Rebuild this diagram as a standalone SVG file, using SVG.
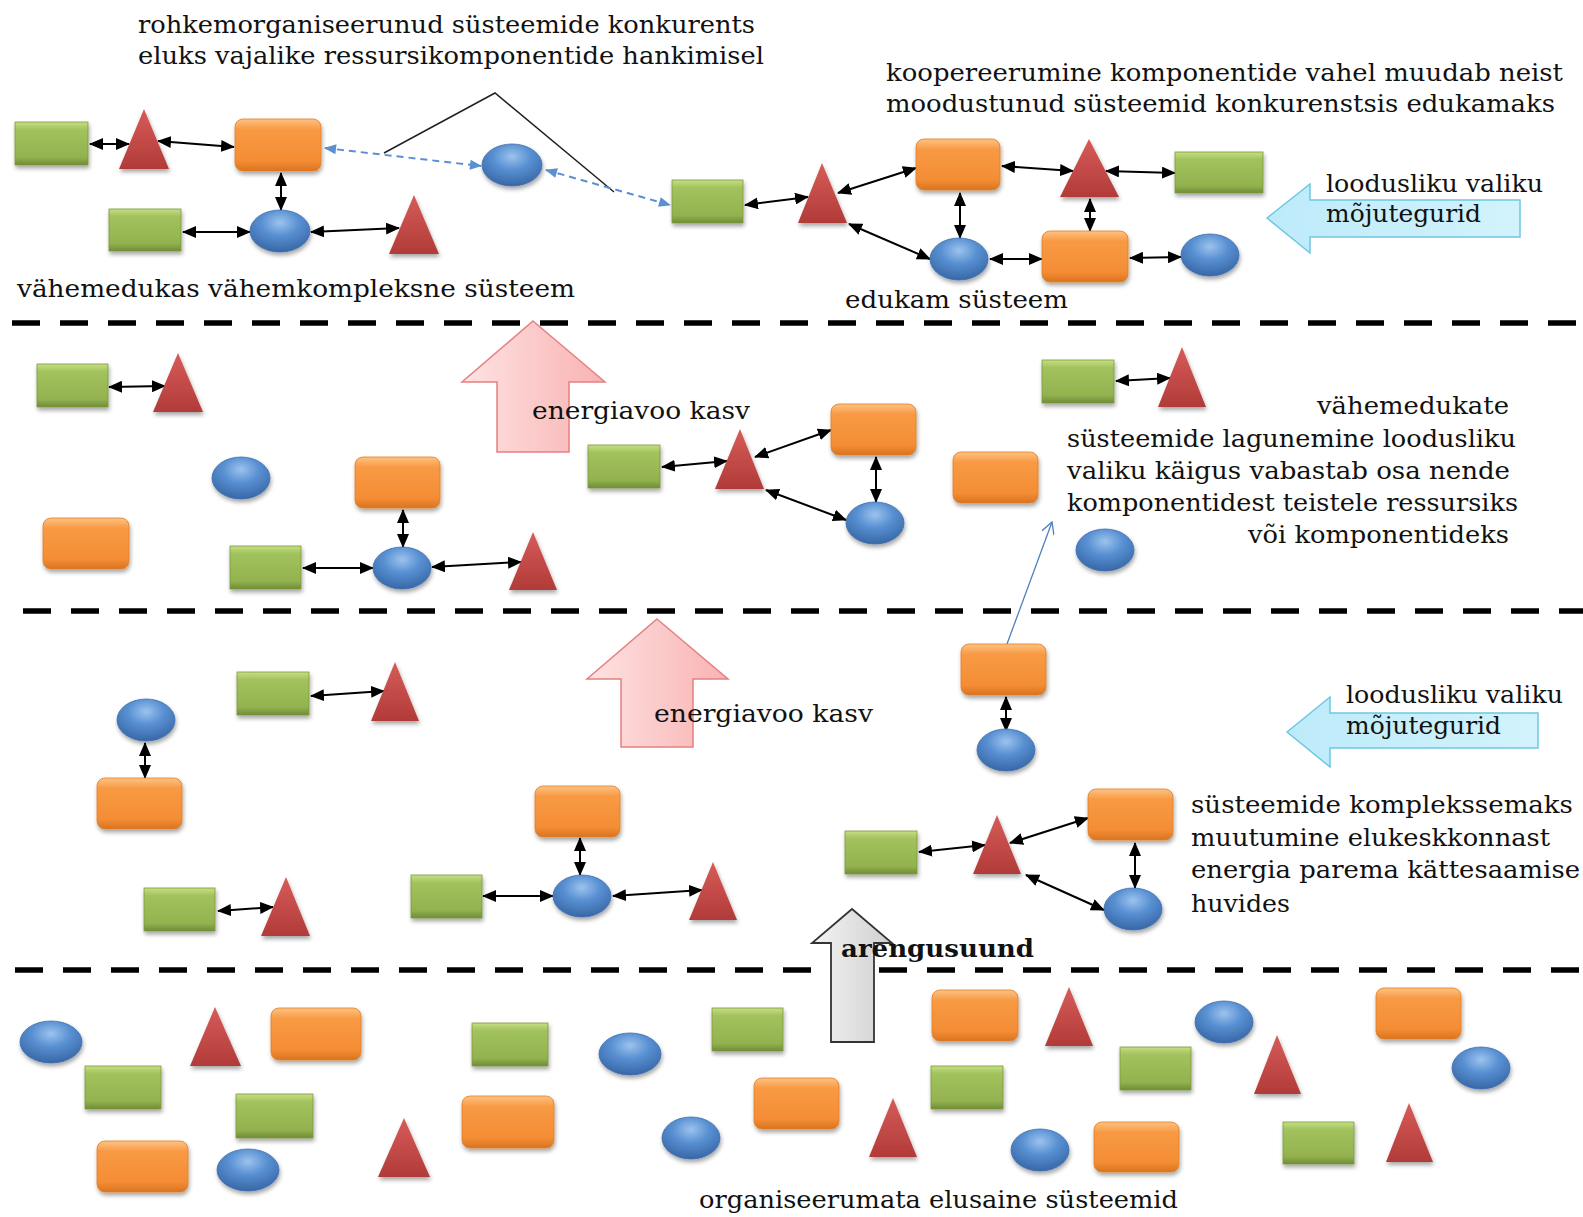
<svg xmlns="http://www.w3.org/2000/svg" width="1583" height="1217" viewBox="0 0 1583 1217">
<defs>
<linearGradient id="gG" x1="0" y1="0" x2="0" y2="1">
<stop offset="0" stop-color="#c6df82"/><stop offset="0.18" stop-color="#a2c25e"/><stop offset="0.82" stop-color="#93b24f"/><stop offset="1" stop-color="#6f8c36"/>
</linearGradient>
<linearGradient id="gO" x1="0" y1="0" x2="0" y2="1">
<stop offset="0" stop-color="#fdc383"/><stop offset="0.2" stop-color="#f89a44"/><stop offset="0.8" stop-color="#f48d35"/><stop offset="1" stop-color="#d9741f"/>
</linearGradient>
<radialGradient id="gB" cx="0.5" cy="0.3" r="0.7">
<stop offset="0" stop-color="#9cc3ee"/><stop offset="0.45" stop-color="#5890d2"/><stop offset="1" stop-color="#3867a6"/>
</radialGradient>
<linearGradient id="gR" x1="0" y1="0" x2="0" y2="1">
<stop offset="0" stop-color="#d65c59"/><stop offset="1" stop-color="#b13b38"/>
</linearGradient>
<linearGradient id="gP" x1="0" y1="0" x2="1" y2="0">
<stop offset="0" stop-color="#fee3e3"/><stop offset="1" stop-color="#f9b2b2"/>
</linearGradient>
<linearGradient id="gC" x1="0" y1="0" x2="1" y2="0">
<stop offset="0" stop-color="#bdeafa"/><stop offset="1" stop-color="#d2f3fc"/>
</linearGradient>
<linearGradient id="gY" x1="0" y1="0" x2="1" y2="0">
<stop offset="0" stop-color="#f4f4f4"/><stop offset="1" stop-color="#cfcfcf"/>
</linearGradient>
<filter id="sh" x="-20%" y="-20%" width="140%" height="160%">
<feDropShadow dx="1" dy="3" stdDeviation="2" flood-color="#000" flood-opacity="0.35"/>
</filter>
<marker id="ah" viewBox="0 0 14 12" refX="13" refY="6" markerWidth="14" markerHeight="12" markerUnits="userSpaceOnUse" orient="auto-start-reverse">
<path d="M0,0 L14,6 L0,12 z" fill="#000"/>
</marker>
<marker id="bh" viewBox="0 0 12 10" refX="11" refY="5" markerWidth="13" markerHeight="10" markerUnits="userSpaceOnUse" orient="auto-start-reverse">
<path d="M0,0 L12,5 L0,10 z" fill="#5b8fd0"/>
</marker>
<marker id="oh" viewBox="0 0 12 12" refX="11" refY="6" markerWidth="15" markerHeight="13" markerUnits="userSpaceOnUse" orient="auto">
<path d="M0,0 L11,6 L0,12" fill="none" stroke="#4f81bd" stroke-width="1.2"/>
</marker>
</defs>
<style>
.g{fill:url(#gG);stroke:#7a9a3e;stroke-width:0.8;filter:url(#sh)}
.o{fill:url(#gO);stroke:#e07d26;stroke-width:0.8;filter:url(#sh)}
.b{fill:url(#gB);stroke:#3f6eae;stroke-width:0.8;filter:url(#sh)}
.r{fill:url(#gR);filter:url(#sh)}
.dl{stroke:#000;stroke-width:5.5;stroke-dasharray:28 20;fill:none}
.c{stroke:#000;stroke-width:2;fill:none;marker-start:url(#ah);marker-end:url(#ah)}
.bd{stroke:#5b8fd0;stroke-width:2;stroke-dasharray:7 5;fill:none;marker-start:url(#bh);marker-end:url(#bh)}
.t{font-family:"DejaVu Serif","Liberation Serif",serif;font-size:25px;fill:#111}
.tb{font-family:"DejaVu Serif","Liberation Serif",serif;font-size:25px;font-weight:bold;fill:#111}
.pk{fill:url(#gP);stroke:#e58080;stroke-width:1.5}
.cy{fill:url(#gC);stroke:#6fc6e2;stroke-width:1.5}
.gy{fill:url(#gY);stroke:#333;stroke-width:1.8}
</style>
<rect width="1583" height="1217" fill="#fff"/>

<g id="separators">
<line class="dl" x1="12" y1="323" x2="1583" y2="323"/>
<line class="dl" x1="23" y1="611" x2="1583" y2="611"/>
<line class="dl" x1="15" y1="970" x2="1583" y2="970"/>
</g>

<g id="block-arrows">
<polygon id="energy-arrow-1" class="pk" points="533,321 605,382 569,382 569,452 497,452 497,382 462,382"/>
<polygon id="energy-arrow-2" class="pk" points="657,619 728,679 693,679 693,747 621,747 621,679 587,679"/>
<polygon id="selection-arrow-1" class="cy" points="1267,218 1310,184 1310,200 1520,200 1520,237 1310,237 1310,253"/>
<polygon id="selection-arrow-2" class="cy" points="1287,732 1330,697 1330,713 1538,713 1538,748 1330,748 1330,767"/>
<polygon id="direction-arrow" class="gy" points="852,909 892,943 874,943 874,1042 831,1042 831,943 812,943"/>
</g>

<g id="connectors">
<polyline points="384,153 495,93 614,192" fill="none" stroke="#222" stroke-width="1.5"/>
<line class="bd" x1="325" y1="148" x2="481" y2="166"/>
<line class="bd" x1="546" y1="170" x2="670" y2="205"/>
<line x1="1007" y1="644" x2="1052" y2="522" stroke="#4f81bd" stroke-width="1.3" marker-end="url(#oh)"/>
<line class="c" x1="90" y1="144" x2="129" y2="144"/>
<line class="c" x1="158" y1="141" x2="234" y2="147"/>
<line class="c" x1="281" y1="173" x2="281" y2="210"/>
<line class="c" x1="183" y1="232" x2="250" y2="232"/>
<line class="c" x1="311" y1="232" x2="399" y2="228"/>
<line class="c" x1="745" y1="205" x2="808" y2="197"/>
<line class="c" x1="838" y1="193" x2="916" y2="168"/>
<line class="c" x1="1002" y1="166" x2="1073" y2="171"/>
<line class="c" x1="1106" y1="171" x2="1175" y2="173"/>
<line class="c" x1="960" y1="193" x2="960" y2="238"/>
<line class="c" x1="849" y1="224" x2="930" y2="259"/>
<line class="c" x1="990" y1="259" x2="1042" y2="259"/>
<line class="c" x1="1090" y1="199" x2="1090" y2="231"/>
<line class="c" x1="1130" y1="258" x2="1181" y2="257"/>
<line class="c" x1="109" y1="387" x2="165" y2="386"/>
<line class="c" x1="403" y1="510" x2="403" y2="547"/>
<line class="c" x1="303" y1="568" x2="373" y2="568"/>
<line class="c" x1="432" y1="567" x2="521" y2="562"/>
<line class="c" x1="662" y1="467" x2="727" y2="461"/>
<line class="c" x1="755" y1="457" x2="831" y2="430"/>
<line class="c" x1="766" y1="490" x2="846" y2="520"/>
<line class="c" x1="876" y1="457" x2="876" y2="502"/>
<line class="c" x1="1116" y1="381" x2="1170" y2="378"/>
<line class="c" x1="145" y1="743" x2="145" y2="778"/>
<line class="c" x1="311" y1="696" x2="384" y2="691"/>
<line class="c" x1="580" y1="838" x2="580" y2="875"/>
<line class="c" x1="483" y1="896" x2="553" y2="896"/>
<line class="c" x1="613" y1="896" x2="702" y2="890"/>
<line class="c" x1="218" y1="911" x2="273" y2="907"/>
<line class="c" x1="1006" y1="697" x2="1006" y2="731"/>
<line class="c" x1="919" y1="852" x2="985" y2="845"/>
<line class="c" x1="1010" y1="843" x2="1088" y2="818"/>
<line class="c" x1="1026" y1="875" x2="1104" y2="910"/>
<line class="c" x1="1135" y1="843" x2="1135" y2="888"/>
</g>

<g id="top-less-successful">
<g id="n1"><rect class="g" x="15" y="122" width="73" height="43"/></g>
<g id="n2"><polygon class="r" points="144,109 119,169 169,169"/></g>
<g id="n3"><rect class="o" x="235" y="119" width="86" height="52" rx="8"/></g>
<g id="n4"><ellipse class="b" cx="280" cy="231" rx="30" ry="21"/></g>
<g id="n5"><rect class="g" x="109" y="209" width="72" height="42"/></g>
<g id="n6"><polygon class="r" points="414,195 389,254 439,254"/></g>
<g id="n7"><ellipse class="b" cx="512" cy="165" rx="30" ry="21"/></g>
</g>

<g id="top-successful">
<g id="n8"><rect class="g" x="672" y="180" width="71" height="43"/></g>
<g id="n9"><polygon class="r" points="822,163 798,223 847,223"/></g>
<g id="n10"><rect class="o" x="916" y="139" width="84" height="51" rx="8"/></g>
<g id="n11"><polygon class="r" points="1089,139 1060,197 1119,197"/></g>
<g id="n12"><rect class="g" x="1175" y="152" width="88" height="41"/></g>
<g id="n13"><ellipse class="b" cx="959" cy="259" rx="29" ry="21"/></g>
<g id="n14"><rect class="o" x="1042" y="231" width="86" height="51" rx="8"/></g>
<g id="n15"><ellipse class="b" cx="1210" cy="255" rx="29" ry="21"/></g>
</g>

<g id="middle-band">
<g id="n16"><rect class="g" x="37" y="364" width="71" height="43"/></g>
<g id="n17"><polygon class="r" points="178,353 153,412 203,412"/></g>
<g id="n18"><ellipse class="b" cx="241" cy="478" rx="29" ry="21"/></g>
<g id="n19"><rect class="o" x="43" y="518" width="86" height="51" rx="8"/></g>
<g id="n20"><rect class="o" x="355" y="457" width="85" height="51" rx="8"/></g>
<g id="n21"><ellipse class="b" cx="402" cy="568" rx="29" ry="21"/></g>
<g id="n22"><rect class="g" x="230" y="546" width="71" height="43"/></g>
<g id="n23"><polygon class="r" points="533,532 509,590 557,590"/></g>
<g id="n24"><rect class="g" x="588" y="445" width="72" height="43"/></g>
<g id="n25"><polygon class="r" points="740,429 715,489 764,489"/></g>
<g id="n26"><rect class="o" x="831" y="404" width="85" height="51" rx="8"/></g>
<g id="n27"><ellipse class="b" cx="875" cy="523" rx="29" ry="21"/></g>
<g id="n28"><rect class="g" x="1042" y="360" width="72" height="43"/></g>
<g id="n29"><polygon class="r" points="1182,347 1158,407 1206,407"/></g>
<g id="n30"><rect class="o" x="953" y="452" width="85" height="51" rx="8"/></g>
<g id="n31"><ellipse class="b" cx="1105" cy="550" rx="29" ry="21"/></g>
</g>

<g id="lower-band">
<g id="n32"><ellipse class="b" cx="146" cy="720" rx="29" ry="21"/></g>
<g id="n33"><rect class="o" x="97" y="778" width="85" height="51" rx="8"/></g>
<g id="n34"><rect class="g" x="237" y="672" width="72" height="43"/></g>
<g id="n35"><polygon class="r" points="395,662 371,721 419,721"/></g>
<g id="n36"><rect class="o" x="535" y="786" width="85" height="51" rx="8"/></g>
<g id="n37"><ellipse class="b" cx="582" cy="896" rx="29" ry="21"/></g>
<g id="n38"><rect class="g" x="411" y="875" width="71" height="43"/></g>
<g id="n39"><polygon class="r" points="713,862 689,920 737,920"/></g>
<g id="n40"><rect class="g" x="144" y="888" width="71" height="43"/></g>
<g id="n41"><polygon class="r" points="286,877 261,936 310,936"/></g>
<g id="n42"><rect class="o" x="961" y="644" width="85" height="51" rx="8"/></g>
<g id="n43"><ellipse class="b" cx="1006" cy="750" rx="29" ry="21"/></g>
<g id="n44"><rect class="g" x="845" y="831" width="72" height="43"/></g>
<g id="n45"><polygon class="r" points="997,815 973,874 1021,874"/></g>
<g id="n46"><rect class="o" x="1088" y="789" width="85" height="51" rx="8"/></g>
<g id="n47"><ellipse class="b" cx="1133" cy="909" rx="29" ry="21"/></g>
</g>

<g id="bottom-band">
<g id="n48"><ellipse class="b" cx="51" cy="1042" rx="31" ry="21"/></g>
<g id="n49"><polygon class="r" points="215,1007 190,1066 241,1066"/></g>
<g id="n50"><rect class="o" x="271" y="1008" width="90" height="52" rx="8"/></g>
<g id="n51"><rect class="g" x="85" y="1066" width="76" height="43"/></g>
<g id="n52"><rect class="g" x="236" y="1094" width="77" height="44"/></g>
<g id="n53"><rect class="o" x="97" y="1141" width="91" height="51" rx="8"/></g>
<g id="n54"><ellipse class="b" cx="248" cy="1170" rx="31" ry="21"/></g>
<g id="n55"><polygon class="r" points="404,1118 378,1177 430,1177"/></g>
<g id="n56"><rect class="g" x="472" y="1023" width="76" height="43"/></g>
<g id="n57"><ellipse class="b" cx="630" cy="1054" rx="31" ry="21"/></g>
<g id="n58"><rect class="o" x="462" y="1096" width="92" height="52" rx="8"/></g>
<g id="n59"><rect class="g" x="712" y="1008" width="71" height="43"/></g>
<g id="n60"><ellipse class="b" cx="691" cy="1138" rx="29" ry="21"/></g>
<g id="n61"><rect class="o" x="754" y="1078" width="85" height="51" rx="8"/></g>
<g id="n62"><polygon class="r" points="893,1098 869,1157 917,1157"/></g>
<g id="n63"><rect class="o" x="932" y="990" width="86" height="51" rx="8"/></g>
<g id="n64"><rect class="g" x="931" y="1066" width="72" height="43"/></g>
<g id="n65"><polygon class="r" points="1069,987 1045,1046 1093,1046"/></g>
<g id="n66"><ellipse class="b" cx="1040" cy="1150" rx="29" ry="21"/></g>
<g id="n67"><rect class="o" x="1094" y="1122" width="85" height="50" rx="8"/></g>
<g id="n68"><rect class="g" x="1120" y="1047" width="71" height="43"/></g>
<g id="n69"><ellipse class="b" cx="1224" cy="1022" rx="29" ry="21"/></g>
<g id="n70"><polygon class="r" points="1277,1035 1254,1094 1301,1094"/></g>
<g id="n71"><rect class="g" x="1283" y="1122" width="71" height="42"/></g>
<g id="n72"><polygon class="r" points="1409,1103 1386,1162 1433,1162"/></g>
<g id="n73"><rect class="o" x="1376" y="988" width="85" height="51" rx="8"/></g>
<g id="n74"><ellipse class="b" cx="1481" cy="1068" rx="29" ry="21"/></g>
</g>

<g id="labels">
<text class="t" x="138" y="33" textLength="617" lengthAdjust="spacingAndGlyphs">rohkemorganiseerunud süsteemide konkurents</text>
<text class="t" x="138" y="64" textLength="626" lengthAdjust="spacingAndGlyphs">eluks vajalike ressursikomponentide hankimisel</text>
<text class="t" x="886" y="81" textLength="677" lengthAdjust="spacingAndGlyphs">koopereerumine komponentide vahel muudab neist</text>
<text class="t" x="886" y="112" textLength="669" lengthAdjust="spacingAndGlyphs">moodustunud süsteemid konkurenstsis edukamaks</text>
<text class="t" x="1326" y="192" textLength="217" lengthAdjust="spacingAndGlyphs">loodusliku valiku</text>
<text class="t" x="1326" y="222" textLength="155" lengthAdjust="spacingAndGlyphs">mõjutegurid</text>
<text class="t" x="17" y="297" textLength="558" lengthAdjust="spacingAndGlyphs">vähemedukas vähemkompleksne süsteem</text>
<text class="t" x="845" y="308" textLength="223" lengthAdjust="spacingAndGlyphs">edukam süsteem</text>
<text class="t" x="532" y="419" textLength="218" lengthAdjust="spacingAndGlyphs">energiavoo kasv</text>
<text class="t" x="1317" y="414" textLength="192" lengthAdjust="spacingAndGlyphs">vähemedukate</text>
<text class="t" x="1067" y="447" textLength="449" lengthAdjust="spacingAndGlyphs">süsteemide lagunemine loodusliku</text>
<text class="t" x="1067" y="479" textLength="443" lengthAdjust="spacingAndGlyphs">valiku käigus vabastab osa nende</text>
<text class="t" x="1067" y="511" textLength="451" lengthAdjust="spacingAndGlyphs">komponentidest teistele ressursiks</text>
<text class="t" x="1248" y="543" textLength="261" lengthAdjust="spacingAndGlyphs">või komponentideks</text>
<text class="t" x="654" y="722" textLength="219" lengthAdjust="spacingAndGlyphs">energiavoo kasv</text>
<text class="t" x="1346" y="703" textLength="217" lengthAdjust="spacingAndGlyphs">loodusliku valiku</text>
<text class="t" x="1346" y="734" textLength="155" lengthAdjust="spacingAndGlyphs">mõjutegurid</text>
<text class="t" x="1191" y="813" textLength="382" lengthAdjust="spacingAndGlyphs">süsteemide komplekssemaks</text>
<text class="t" x="1191" y="846" textLength="359" lengthAdjust="spacingAndGlyphs">muutumine elukeskkonnast</text>
<text class="t" x="1191" y="878" textLength="389" lengthAdjust="spacingAndGlyphs">energia parema kättesaamise</text>
<text class="t" x="1191" y="912" textLength="99" lengthAdjust="spacingAndGlyphs">huvides</text>
<text class="tb" x="841" y="957" textLength="193" lengthAdjust="spacingAndGlyphs">arengusuund</text>
<text class="t" x="699" y="1208" textLength="479" lengthAdjust="spacingAndGlyphs">organiseerumata elusaine süsteemid</text>
</g>
</svg>
